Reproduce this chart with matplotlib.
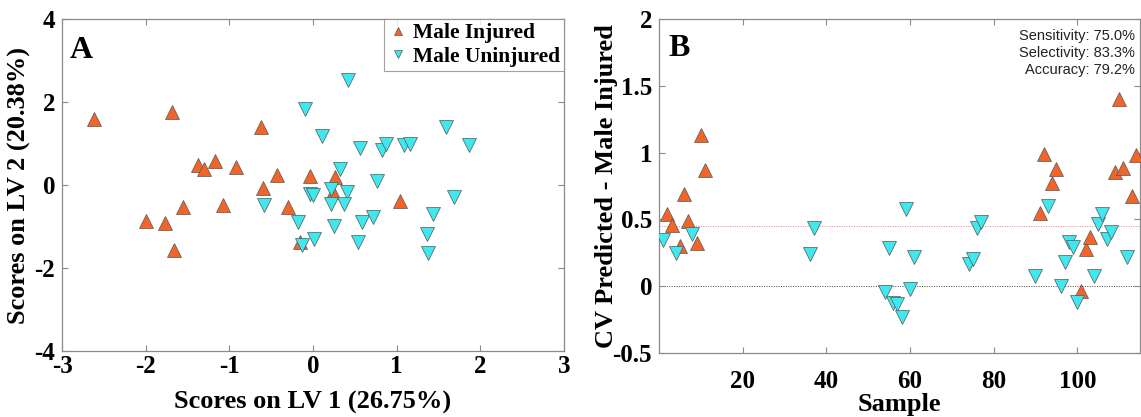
import matplotlib
matplotlib.use("Agg")
import matplotlib.pyplot as plt
import numpy as np

# ---------------- data ----------------
# Panel A: LV scores
inj_lv1 = [-2.62, -1.68, -0.62, -1.37, -1.30, -1.17, -0.92, -0.43, -0.04, 0.26,
           -0.60, 0.24, -1.55, -1.07, -0.30, 1.04, -2.00, -1.77, -1.66, -0.16]
inj_lv2 = [1.59, 1.75, 1.40, 0.49, 0.39, 0.59, 0.43, 0.24, 0.22, 0.20,
           -0.07, -0.16, -0.54, -0.48, -0.52, -0.38, -0.86, -0.92, -1.57, -1.37]
uninj_lv1 = [-0.10, 0.42, 0.11, 0.56, 0.83, 0.87, 1.09, 1.16, 1.59, 1.87,
             0.32, 0.77, 0.22, 0.41, -0.04, 0.00, -0.59, 0.22, 0.37, 1.68,
             1.44, -0.18, 0.25, 0.59, 0.72, 1.36, 1.38, 0.01, -0.13, 0.54]
uninj_lv2 = [1.82, 2.54, 1.18, 0.88, 0.84, 0.99, 0.96, 0.99, 1.39, 0.96,
             0.38, 0.10, -0.09, -0.17, -0.22, -0.24, -0.48, -0.46, -0.46, -0.28,
             -0.70, -0.88, -0.98, -0.88, -0.78, -1.17, -1.65, -1.30, -1.44, -1.38]

# Panel B: CV predictions
inj_sample = [2, 3, 5, 6, 7, 9, 10, 11, 91, 92, 94, 95, 101, 102, 103, 109, 110, 111, 113, 114]
inj_pred = [0.537, 0.457, 0.30, 0.69, 0.49, 0.32, 1.13, 0.868, 0.55, 0.99,
            0.77, 0.878, -0.033, 0.276, 0.37, 0.855, 1.40, 0.885, 0.674, 0.982]
uninj_sample = [1, 4, 8, 36, 37, 54, 55, 56, 57, 58, 59, 60, 61, 74, 75, 76, 77,
                90, 93, 96, 97, 98, 99, 100, 104, 105, 106, 107, 108, 112]
uninj_pred = [0.345, 0.246, 0.39, 0.241, 0.435, -0.043, 0.289, -0.127, -0.132, -0.227,
              0.576, -0.022, 0.216, 0.164, 0.204, 0.433, 0.482,
              0.077, 0.604, 0.005, 0.184, 0.328, 0.296, -0.115, 0.077, 0.465,
              0.54, 0.35, 0.408, 0.216]
threshold = 0.448

stats_text = ["Sensitivity: 75.0%", "Selectivity: 83.3%", "Accuracy: 79.2%"]

# ---------------- style ----------------
ORANGE = "#F2652A"
CYAN = "#3FE8EE"
EDGE = "#555555"
SPINE = "#8a8a8a"
serif = ["Liberation Serif", "DejaVu Serif"]
plt.rcParams["font.family"] = serif
plt.rcParams["font.weight"] = "bold"
plt.rcParams["axes.unicode_minus"] = False

W, H = 1141, 417
fig = plt.figure(figsize=(W / 100, H / 100), dpi=100)

def px_axes(l, t, r, b):
    return fig.add_axes([l / W, 1 - b / H, (r - l) / W, (b - t) / H])

TICK_FS = 18
LABEL_FS = 19

def style_axes(ax):
    for s in ax.spines.values():
        s.set_color(SPINE)
        s.set_linewidth(0.9)
    ax.tick_params(direction="in", length=4, width=0.8, color=SPINE,
                   top=True, right=True, labelsize=TICK_FS, pad=5)
    for lab in ax.get_xticklabels() + ax.get_yticklabels():
        lab.set_fontweight("bold")
        lab.set_family(serif)

ms = 9.5

# ----- Panel A -----
axA = px_axes(62, 19, 564, 351)
axA.plot(inj_lv1, inj_lv2, linestyle="none", marker="^", ms=ms, mfc=ORANGE,
         mec=EDGE, mew=0.5, label="Male Injured")
axA.plot(uninj_lv1, uninj_lv2, linestyle="none", marker="v", ms=ms, mfc=CYAN,
         mec=EDGE, mew=0.5, label="Male Uninjured")
axA.set_xlim(-3, 3)
axA.set_ylim(-4, 4)
axA.set_xticks([-3, -2, -1, 0, 1, 2, 3])
axA.set_yticks([-4, -2, 0, 2, 4])
style_axes(axA)
axA.tick_params(axis="x", pad=3)
axA.set_xlabel("Scores on LV 1 (26.75%)", fontsize=LABEL_FS, fontweight="bold", labelpad=9)
axA.set_ylabel("Scores on LV 2 (20.38%)", fontsize=LABEL_FS, fontweight="bold", labelpad=2)
axA.text(0.015, 0.95, "A", transform=axA.transAxes, fontsize=23, fontweight="bold",
         va="top", ha="left")
leg = axA.legend(loc="upper right", prop={"family": serif, "weight": "bold", "size": 15.5},
                 frameon=True, fancybox=False, borderaxespad=0.0, handletextpad=0.25,
                 borderpad=0.2, labelspacing=0.15, markerscale=0.65, handlelength=0.9)
leg.get_frame().set_edgecolor(SPINE)
leg.get_frame().set_linewidth(0.8)

# ----- Panel B -----
axB = px_axes(659, 19, 1140, 353)
axB.axhline(threshold, color="#f08080", linestyle=(0, (1, 1.5)), linewidth=0.7, zorder=1)
axB.axhline(0, color="#444444", linestyle=(0, (1, 1.5)), linewidth=0.7, zorder=1)
axB.plot(inj_sample, inj_pred, linestyle="none", marker="^", ms=ms, mfc=ORANGE,
         mec=EDGE, mew=0.5, zorder=3)
axB.plot(uninj_sample, uninj_pred, linestyle="none", marker="v", ms=ms, mfc=CYAN,
         mec=EDGE, mew=0.5, zorder=3)
axB.set_xlim(0, 115)
axB.set_ylim(-0.5, 2)
axB.set_xticks([20, 40, 60, 80, 100])
axB.set_yticks([-0.5, 0, 0.5, 1, 1.5, 2])
axB.set_yticklabels(["-0.5", "0", "0.5", "1", "1.5", "2"])
style_axes(axB)
axB.tick_params(axis="x", pad=12)
axB.set_xlabel("Sample", fontsize=LABEL_FS, fontweight="bold", labelpad=0)
axB.set_ylabel("CV Predicted - Male Injured", fontsize=LABEL_FS, fontweight="bold", labelpad=-4)
axB.text(0.02, 0.955, "B", transform=axB.transAxes, fontsize=23, fontweight="bold",
         va="top", ha="left")
axB.text(0.99, 0.97, "\n".join(stats_text), transform=axB.transAxes, ha="right", va="top",
         fontsize=10.5, fontweight="normal", family=["Liberation Sans", "DejaVu Sans"],
         linespacing=1.25, color="#222222")

fig.savefig("out.png", dpi=100)
